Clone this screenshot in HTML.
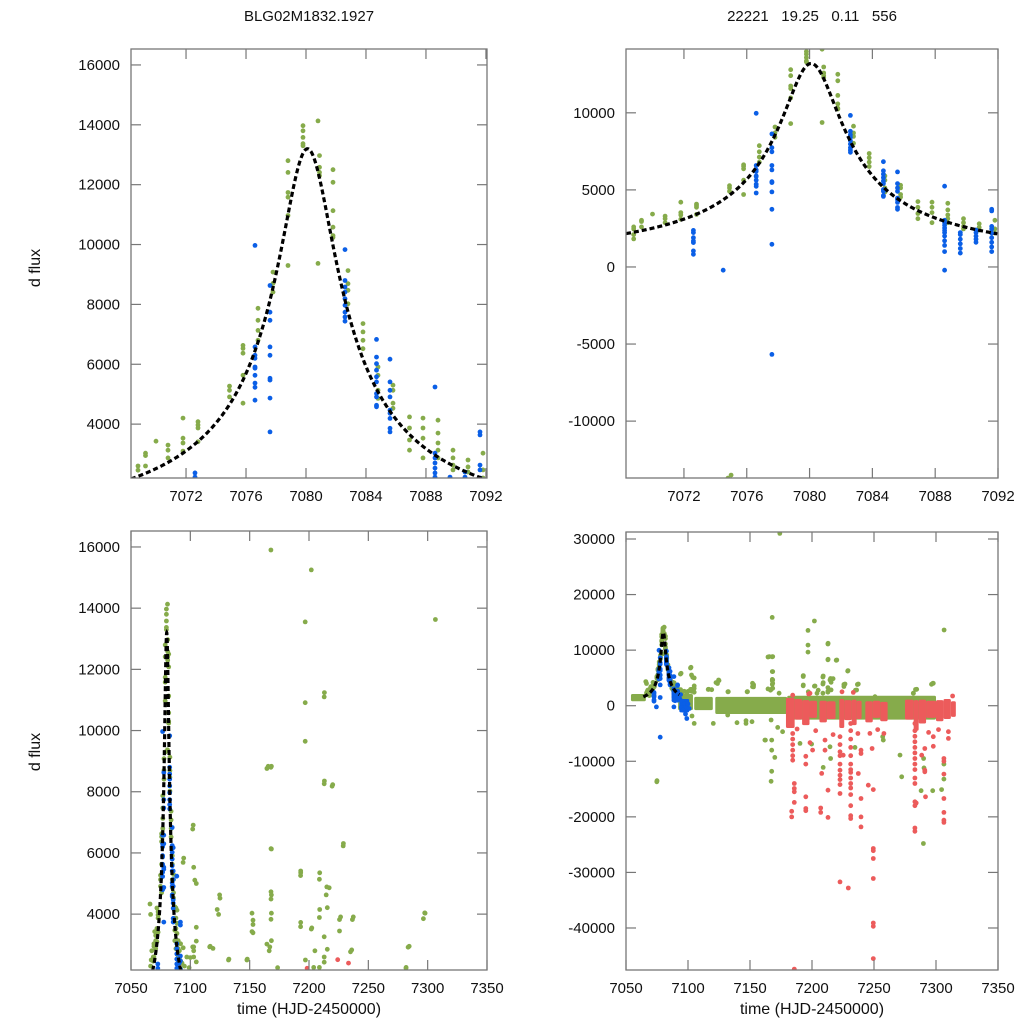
<!DOCTYPE html>
<html><head><meta charset="utf-8"><style>
html,body{margin:0;padding:0;background:#fff;width:1024px;height:1024px;overflow:hidden;}
svg{display:block;position:absolute;left:0;top:0;font-family:"Liberation Sans",Arial,sans-serif;}
</style></head><body>
<svg id="chart" width="1024" height="1024" viewBox="0 0 1024 1024" xmlns="http://www.w3.org/2000/svg">
<rect width="1024" height="1024" fill="#fff"/>
<text x="309" y="21" font-size="15" text-anchor="middle" fill="#111">BLG02M1832.1927</text>
<text x="812" y="21" font-size="15" text-anchor="middle" fill="#111" xml:space="preserve">22221   19.25   0.11   556</text>
<text transform="translate(40,268) rotate(-90)" font-size="16" text-anchor="middle" fill="#111">d flux</text>
<text transform="translate(40,752) rotate(-90)" font-size="16" text-anchor="middle" fill="#111">d flux</text>
<text x="309" y="1014" font-size="16" text-anchor="middle" fill="#111">time (HJD-2450000)</text>
<text x="812" y="1014" font-size="16" text-anchor="middle" fill="#111">time (HJD-2450000)</text>
<g id="panels"></g>
</svg>
<script>
// ---- data ----
const greenPoints = [
[7068.8,2600],[7068.8,2460],[7068.8,2100],[7068.8,1820],[7069.3,3030],[7069.3,2600],[7069.3,2950],
[7070.8,3300],[7070.8,3130],[7070.8,2870],[7071.8,4200],[7071.8,3530],[7071.8,3370],[7071.8,3100],
[7072.8,4080],[7072.8,3970],[7072.8,3870],[7072.8,3410],[7074.9,5270],[7074.9,5130],[7074.9,4910],
[7075.8,6630],[7075.8,6530],[7075.8,6370],[7075.8,5630],[7075.8,4700],[7076.8,7870],[7076.8,7470],[7076.8,7130],[7076.8,6800],
[7077.8,9080],[7077.8,8700],[7077.8,8410],[7078.8,12800],[7078.8,12410],[7078.8,11740],[7078.8,11580],[7078.8,10970],[7078.8,9300],
[7079.8,13970],[7079.8,13800],[7079.8,13580],[7079.8,13370],[7079.8,13300],
[7080.8,14130],[7080.9,12970],[7080.9,12580],[7080.9,12410],[7080.9,12300],[7080.8,9370],
[7081.8,12500],[7081.8,12080],[7081.8,11130],[7081.8,10580],[7081.8,10300],[7081.8,10240],
[7082.8,9130],[7082.8,8690],[7082.8,8470],[7082.8,8020],[7083.8,7360],[7083.8,7080],[7083.8,6800],[7083.8,6520],
[7084.8,5910],[7084.8,5630],[7084.8,5130],[7084.8,4860],[7085.8,5300],[7085.8,5130],[7085.8,4700],[7085.8,4530],
[7086.9,4240],[7086.9,3870],[7086.9,3470],[7086.9,3130],[7087.8,4200],[7087.8,3870],[7087.8,3530],[7087.8,2870],
[7088.8,4130],[7088.8,3700],[7088.8,3370],[7088.8,3130],[7088.8,2870],[7089.8,3130],[7089.8,2870],[7089.8,2630],[7089.8,2470],
[7090.8,2800],[7090.8,2570],[7090.8,2400],[7091.8,3030],[7091.8,2470],[7091.8,2200],[7074.8,-13700],
[7066.5,2300],[7067,2500],[7067.5,2800],[7066,4330],[7066.5,3990],[7070,3430],
[7093,2400],[7094,2900],[7095,2300],[7097,2600],[7099,2250],
[7093.9,5690],[7102,6780],[7102.8,5530],[7105,5000],[7105,3570],[7105,3120],[7102.8,2930],[7102,2930],[7102.8,2800],[7102.8,2600],[7100,2580],[7105,2440],
[7167.9,15900],[7201.9,15250],[7196.8,13550],[7306.5,13630],[7212.8,11100],[7196.8,10910],[7196.8,9650],
[7164.5,8760],[7167.9,8800],[7212.8,8260],[7219.5,8180],[7168,6140],[7228.8,6230],
[7192.9,5260],[7208.8,5140],[7217,4860],[7215,4890],[7125,4520],[7168,4730],[7168,4490],[7215.4,4210],
[7123.8,3990],[7297.5,4040],[7296.4,3850],[7152.8,3800],[7152.8,3660],[7152.8,3390],[7168,3830],[7208.8,3890],
[7225.7,3820],[7236.6,3820],[7192.9,3590],[7201.9,3510],[7225.7,3450],[7212.8,3260],
[7116.3,2930],[7119.1,2880],[7164.5,3020],[7167,2930],[7166.5,2800],[7283.5,2920],[7215.4,2850],[7205,2800],
[7212.8,2600],[7212.8,2430],[7235,2770],[7132.2,2500],[7147.7,2500],[7197,2500],[7281.8,2260],[7173.5,2250],[7204,2260],[7208.8,2260],
[7213,11240],[7213,8350],[7220,8230],[7229,6310],[7193,5410],[7193,3730],[7209,5350],[7209,4150],[7214.5,4630],
[7202.4,3550],[7226.6,3910],[7237.3,3910],[7236,2830],[7297.8,4030],[7284.4,2950],[7281.7,2230],[7250.8,1630],
[7271,-8880],[7272.3,-12800],[7289.8,-24800],[7288,-15300],[7297.3,-15300],[7304.5,-15100],[7306.4,-10500],[7306.4,-13200],
[7290.3,-11200],[7290,-9500],[7215,-9500],[7209,-11100],[7214.5,-7400],[7257.5,-6180],[7257,-5580],[7190.3,-6780],[7199.7,-6900],[7234.7,-7500],
[7165.6,8830],[7168.3,8830],[7168.3,6130],[7168.3,4630],[7168.3,4030],[7168.3,3130],
[7167,-2580],[7167.5,-6180],[7167.5,-8000],[7170,-9300],[7167.5,-11800],[7162,-6180],[7075,-13500],
[7102.4,6910],[7103.8,5110],[7094.4,5830],[7124.7,4630],[7122.6,4150],[7116.7,2950],[7152,4030],[7152,3430],
[7132.5,2530],[7148,2530],[7193,5350],[7105,-3180],[7103.2,-1850],[7120.4,-3180],[7139.5,-3060],
[7146.8,-2700],[7146.8,-3180],[7151.6,-2880],[7132,-1680],[7172.3,-3900],[7176.3,-4680],[7162.4,-6180],
[7174,31000],[7167,-13600]
];
const bluePoints = [
[7072.6,2370],[7072.6,2230],[7072.6,1900],[7072.6,1690],[7072.6,1580],[7072.6,1040],[7072.6,820],[7074.5,-210],
[7076.6,9970],[7076.6,6580],[7076.6,6300],[7076.6,6200],[7076.6,5910],[7076.6,5870],[7076.6,5630],[7076.6,5370],[7076.6,5230],[7076.6,4800],
[7077.6,8630],[7077.6,7740],[7077.6,7470],[7077.6,6580],[7077.6,6300],[7077.6,5530],[7077.6,5470],[7077.6,4870],[7077.6,3740],[7077.6,1470],[7077.6,-5670],
[7082.6,9830],[7082.6,8800],[7082.6,8580],[7082.6,8410],[7082.6,8190],[7082.6,7970],[7082.6,7740],[7082.6,7580],[7082.6,7440],
[7084.7,6830],[7084.7,6240],[7084.7,6020],[7084.7,5800],[7084.7,5580],[7084.7,5410],[7084.7,5020],[7084.7,4910],[7084.7,4630],[7084.7,4580],
[7085.6,6170],[7085.6,5410],[7085.6,5130],[7085.6,4910],[7085.6,4470],[7085.6,4360],[7085.6,4190],[7085.6,3860],[7085.6,3740],
[7088.6,5240],[7088.6,3030],[7088.6,2870],[7088.6,2700],[7088.6,2530],[7088.6,2370],[7088.6,2230],[7088.6,2000],[7088.6,1700],[7088.6,1400],[7088.6,1000],[7088.6,-210],
[7089.6,2230],[7089.6,2100],[7089.6,1800],[7089.6,1500],[7089.6,1200],[7089.6,900],
[7090.6,2400],[7090.6,2230],[7090.6,2000],[7090.6,1800],[7090.6,1600],
[7091.6,3740],[7091.6,3640],[7091.6,2630],[7091.6,2470],[7091.6,2200],[7091.6,1900],[7091.6,1600],[7091.6,1300],[7091.6,1000],
[7093.5,1200],[7094.5,-300],[7095,800],[7096,-800],[7097,400],[7098,-1500],[7099,-2300],[7100,300],[7101,-500],[7094,2000]
];
const redPoints = [
[7224.2,2510],[7184.4,1900],[7197.3,2100],[7198.4,2230],[7233.3,2400],[7313.4,1750],
[7184.4,-5000],[7184.4,-6000],[7184.4,-7000],[7184.4,-8000],[7184.4,-9000],[7184.4,-9800],
[7185.7,-14000],[7185.7,-14900],[7185.7,-15500],[7185.7,-17400],[7183.6,-19000],[7183.6,-20000],
[7195,-9100],[7195,-10500],[7195,-16400],[7195,-18500],[7195,-18900],[7185.7,-47400],
[7198.4,-6660],[7200.5,-7980],[7207,-18400],[7207,-19200],[7207.8,-12180],[7212.9,-15200],[7212.9,-20100],
[7210.5,-6180],[7210.5,-8000],[7203,-4500],[7217,-5200],[7188,-4200],
[7222.6,-5580],[7222.6,-7000],[7222.6,-8300],[7222.6,-9000],[7222.6,-10500],[7222.6,-11600],[7222.6,-12500],[7222.6,-13300],[7222.6,-14200],[7222.6,-15800],[7222.6,-31700],
[7225.2,-8900],[7229.3,-32800],
[7231.2,-3200],[7231.2,-4500],[7231.2,-6000],[7231.2,-7500],[7231.2,-9000],[7231.2,-10500],[7231.2,-11500],[7231.2,-12000],[7231.2,-13000],[7231.2,-14000],[7231.2,-14800],[7231.2,-16000],[7231.2,-18000],[7231.2,-19800],[7231.2,-20300],
[7237.3,-12200],[7239.5,-16700],[7239.5,-20000],[7239.5,-21800],[7239.5,-8000],[7239.5,-8600],[7237,-5000],
[7245.4,-14300],[7249.4,-15100],
[7249.4,-25700],[7249.4,-26100],[7249.4,-27500],[7249.4,-31100],[7249.4,-39100],[7249.4,-39700],[7249.4,-45500],
[7246.7,-4980],[7248.5,-7700],[7253,-4300],[7258,-5000],
[7283,-3200],[7283,-4500],[7283,-5500],[7283,-6500],[7283,-7500],[7283,-8500],[7283,-9500],[7283,-10500],[7283,-11500],[7283,-13000],[7283,-14000],[7283,-17300],[7283,-18000],[7283,-22000],[7283,-22600],[7284,-17500],
[7291,-7700],[7291,-11600],[7291,-11900],[7291.5,-16400],[7288.5,-8900],[7297.8,-7300],[7297.8,-5580],[7294,-4800],[7302,-4300],
[7306.4,-9500],[7306.4,-10000],[7306.4,-12300],[7306.4,-16700],[7306.4,-19200],[7306.4,-20600],[7306.4,-21000],
[7310,-4680],[7310,-5880]
];
// dense clusters: [start, end, low, high]
const greenBands = [[7054,7066,800,2100],[7092,7104,-800,2100],[7105,7120,-800,1600],[7122,7180,-1500,1600],[7180,7300,-2500,1800]];
const redBands = [[7179,7186,-4000,1400],[7186,7192,-2500,1200],[7192,7198,-3500,1000],[7198,7204,-2200,900],[7206,7212,-3000,900],[7212,7219,-2400,800],
 [7222,7226,-4000,1200],[7226,7232,-2600,1000],[7232,7236,-3500,1100],[7236,7240,-2400,900],[7243,7249,-3000,800],[7249,7255,-2200,900],[7255,7261,-2800,700],
 [7275,7282,-2500,1100],[7282,7286,-4500,1000],[7286,7292,-3200,1100],[7292,7300,-2200,900],[7300,7306,-2800,1000],[7306,7312,-2400,1200],[7312,7316,-2000,800]];
const blueBands = [[7093,7101,-1200,1200]];
// microlensing model parameters
const modelPeakTime = 7080.1;
const modelPeakFlux = 13200;
const modelWidth = 1.96;

// ---- layout ----
const NS = "http://www.w3.org/2000/svg";
const panels = [
 {name:"top-left", x0:131,x1:487,y0:49,y1:478, t0:7068.33,t1:7092.07, f0:2200,f1:16533, xt:[7072,7076,7080,7084,7088,7092], yt:[4000,6000,8000,10000,12000,14000,16000]},
 {name:"top-right", x0:626,x1:998,y0:49,y1:478, t0:7068.31,t1:7092.0, f0:-13690,f1:14140, xt:[7072,7076,7080,7084,7088,7092], yt:[-10000,-5000,0,5000,10000]},
 {name:"bottom-left", x0:131,x1:487,y0:531,y1:970, t0:7050,t1:7350, f0:2174,f1:16522, xt:[7050,7100,7150,7200,7250,7300,7350], yt:[4000,6000,8000,10000,12000,14000,16000]},
 {name:"bottom-right", x0:626,x1:998,y0:532,y1:970, t0:7050,t1:7350, f0:-47560,f1:31260, xt:[7050,7100,7150,7200,7250,7300,7350], yt:[-40000,-30000,-20000,-10000,0,10000,20000,30000]}
];
const colors = {green:"#86ab4b", blue:"#0b5fe6", red:"#ec5b5b"};
const root = document.getElementById("panels");
function mk(tag, attrs, parent){const e=document.createElementNS(NS,tag);for(const k in attrs)e.setAttribute(k,attrs[k]);parent.appendChild(e);return e;}

panels.forEach((p, i) => {
  const sx = t => p.x0 + (t - p.t0) / (p.t1 - p.t0) * (p.x1 - p.x0);
  const sy = f => p.y1 - (f - p.f0) / (p.f1 - p.f0) * (p.y1 - p.y0);
  const tm = (p.t1 - p.t0) * 0.01, fm = (p.f1 - p.f0) * 0.01;
  const g = mk("g", {}, root);
  
  
  const cp = mk("clipPath", {id:"clip" + i}, g);
  mk("rect", {x:p.x0, y:p.y0, width:p.x1-p.x0, height:p.y1-p.y0}, cp);
  const plot = mk("g", {"clip-path":"url(#clip"+i+")"}, g);
  
  
  const drawBands = (bands, col, nm) => bands.forEach(b => {
    const a0 = Math.max(b[0], p.t0), a1 = Math.min(b[1], p.t1);
    const lo = Math.max(b[2], p.f0 - fm), hi = Math.min(b[3], p.f1);
    if (a1 <= a0 || hi <= lo) return;
    const x = sx(a0), w = sx(a1) - x, y = sy(hi), h = sy(lo) - y;
    const r = mk("rect", {x:x, y:y, width:Math.max(w,2), height:Math.max(h,2), rx:1.5, fill:col}, plot);
    
    
  });
  const drawPts = (pts, col, nm) => pts.forEach(d => {
    if (d[0] < p.t0 - tm || d[0] > p.t1 + tm || d[1] < p.f0 - fm || d[1] > p.f1 + fm) return;
    const c = mk("circle", {cx:sx(d[0]).toFixed(1), cy:sy(d[1]).toFixed(1), r:2.4, fill:col}, plot);
    
    
  });
  drawBands(greenBands, colors.green, 'green-cluster');
  drawPts(greenPoints, colors.green, 'green-point');
  drawBands(redBands, colors.red, 'red-cluster');
  drawPts(redPoints, colors.red, 'red-point');
  drawBands(blueBands, colors.blue, 'blue-cluster');
  drawPts(bluePoints, colors.blue, 'blue-point');
  let d = "";
  for (let t = Math.max(7064, p.t0); t <= Math.min(7093, p.t1); t += 0.05) {
    const dt = (t - modelPeakTime) / modelWidth;
    let f = modelPeakFlux / Math.sqrt(1 + dt*dt);
    f = Math.max(f, p.f0 - fm);
    d += (d ? "L" : "M") + sx(t).toFixed(2) + "," + sy(f).toFixed(2);
  }
  const path = mk("path", {d:d, fill:"none", stroke:"#000", "stroke-width":3.2, "stroke-dasharray":"5,3"}, plot);
  
  
  const fr = mk("rect", {x:p.x0, y:p.y0, width:p.x1-p.x0, height:p.y1-p.y0, fill:"none", stroke:"#777", "stroke-width":1.3}, g);
  
  
  p.xt.forEach(v => {
    const x = sx(v);
    mk("line", {x1:x, x2:x, y1:p.y1, y2:p.y1-10, stroke:"#777", "stroke-width":1.2}, g);
    mk("line", {x1:x, x2:x, y1:p.y0, y2:p.y0+10, stroke:"#777", "stroke-width":1.2}, g);
    const tx = mk("text", {x:x, y:p.y1+23, "font-size":15, "text-anchor":"middle", fill:"#111"}, g);
    tx.textContent = v;
    
    
  });
  p.yt.forEach(v => {
    const y = sy(v);
    mk("line", {x1:p.x0, x2:p.x0+10, y1:y, y2:y, stroke:"#777", "stroke-width":1.2}, g);
    mk("line", {x1:p.x1, x2:p.x1-10, y1:y, y2:y, stroke:"#777", "stroke-width":1.2}, g);
    const tx = mk("text", {x:p.x0-11, y:y+5, "font-size":15, "text-anchor":"end", fill:"#111"}, g);
    tx.textContent = v;
    
    
  });
});
</script>
</body></html>
